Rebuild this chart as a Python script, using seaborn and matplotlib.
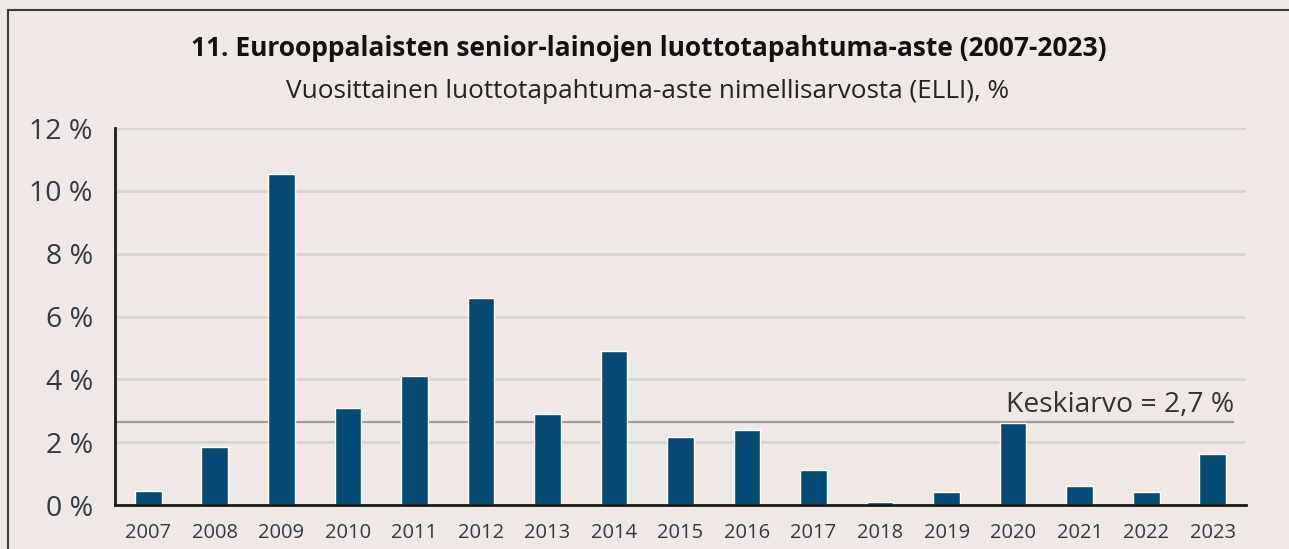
import matplotlib
matplotlib.use("Agg")
import matplotlib.pyplot as plt
import seaborn as sns
import pandas as pd
from matplotlib.lines import Line2D

years = ["2007", "2008", "2009", "2010", "2011", "2012", "2013", "2014", "2015",
         "2016", "2017", "2018", "2019", "2020", "2021", "2022", "2023"]
default_rate = [0.45, 1.85, 10.55, 3.1, 4.1, 6.6, 2.9, 4.9, 2.15,
                2.4, 1.1, 0.1, 0.42, 2.6, 0.6, 0.42, 1.62]
mean_value = 2.65
mean_label = "Keskiarvo = 2,7 %"
yticks = [0, 2, 4, 6, 8, 10, 12]
ytick_labels = ["0 %", "2 %", "4 %", "6 %", "8 %", "10 %", "12 %"]
title = "11. Eurooppalaisten senior-lainojen luottotapahtuma-aste (2007-2023)"
subtitle = "Vuosittainen luottotapahtuma-aste nimellisarvosta (ELLI), %"

bg = "#F0E8E5"
bar_color = "#034B72"
tick_color = "#2F3A44"

sns.set_theme(style="white")
plt.rcParams["font.family"] = ["Open Sans", "DejaVu Sans"]

W, H = 1289, 549
fig = plt.figure(figsize=(W / 100, H / 100), dpi=100, facecolor=bg)
ax = fig.add_axes([115 / W, 44 / H, (1246 - 115) / W, (505 - 128) / H], facecolor=bg)

df = pd.DataFrame({"year": years, "rate": default_rate})
sns.barplot(data=df, x="year", y="rate", color=bar_color, width=0.4, ax=ax,
            saturation=1, zorder=3)

ax.set_xlim(-0.5, len(years) - 0.5)
ax.set_ylim(0, 12)
ax.set_yticks(yticks)
ax.set_yticklabels(ytick_labels)
ax.set_xlabel("")
ax.set_ylabel("")
ax.yaxis.grid(True, color="#D6D3D0", linewidth=2, zorder=0)
ax.set_axisbelow(True)
for s in ["top", "right"]:
    ax.spines[s].set_visible(False)
for s in ["left", "bottom"]:
    ax.spines[s].set_color("#1A1A1A")
    ax.spines[s].set_linewidth(2)
    ax.spines[s].set_zorder(4)
ax.tick_params(axis="y", length=0, pad=16, labelsize=20.5, labelcolor=tick_color)
ax.tick_params(axis="x", length=0, pad=13, labelsize=14.5, labelcolor=tick_color)

ax.plot([-0.5, len(years) - 0.68], [mean_value, mean_value], color="#9A9A9A",
        linewidth=1.6, zorder=2, solid_capstyle="butt")
ax.text(len(years) - 0.68, mean_value + 0.32, mean_label, ha="right", va="baseline",
        fontsize=20.3, color="#333333")

fig.text(649 / W, 1 - 49 / H, title, ha="center", va="center", fontsize=19,
         fontweight="bold", color="#111111")
fig.text(648 / W, 1 - 92 / H, subtitle, ha="center", va="center", fontsize=18.8,
         color="#222222")

# frame lines (left and top)
fig.add_artist(Line2D([8 / W, 8 / W], [0, 1 - 10 / H], transform=fig.transFigure,
                      color="#3A3A3A", linewidth=1.5))
fig.add_artist(Line2D([8 / W, 1], [1 - 10 / H, 1 - 10 / H], transform=fig.transFigure,
                      color="#3A3A3A", linewidth=1.5))

fig.savefig("out.png", dpi=100, facecolor=bg)
